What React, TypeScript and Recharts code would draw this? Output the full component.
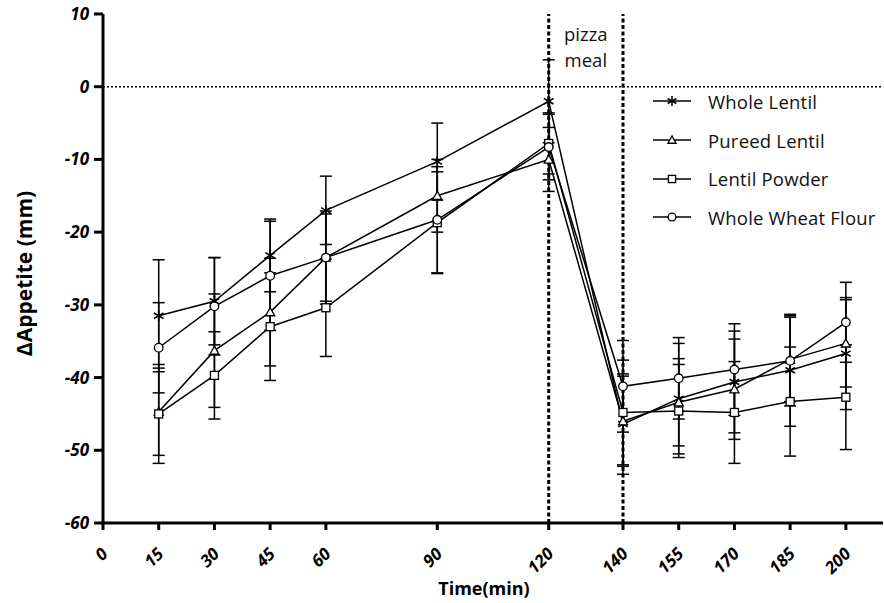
import React from 'react'
import {
  ComposedChart,
  Line,
  XAxis,
  YAxis,
  ErrorBar,
  ReferenceLine,
  ReferenceArea,
} from 'recharts'

const times = [15, 30, 45, 60, 90, 120, 140, 155, 170, 185, 200]
const xTicks = [0, 15, 30, 45, 60, 90, 120, 140, 155, 170, 185, 200]
const yTicks = [-60, -50, -40, -30, -20, -10, 0, 10]

const wholeLentil = [-31.5, -29.5, -23.2, -17.0, -10.3, -2.0, -46.4, -42.9, -40.6, -39.0, -36.7]
const wholeLentilErr = [7.7, 6.0, 5.0, 4.7, 5.3, 5.7, 6.9, 7.6, 7.0, 7.7, 7.7]
const pureedLentil = [-44.7, -36.3, -31.0, -23.5, -15.0, -10.0, -46.0, -43.4, -41.6, -37.5, -35.3]
const pureedLentilErr = [6.0, 7.8, 7.4, 6.0, 5.0, 4.4, 6.2, 6.0, 6.9, 5.8, 6.0]
const lentilPowder = [-45.0, -39.7, -33.0, -30.4, -18.7, -7.8, -44.8, -44.6, -44.8, -43.3, -42.7]
const lentilPowderErr = [6.8, 6.0, 7.4, 6.7, 7.0, 4.2, 7.2, 6.4, 7.0, 7.5, 7.2]
const wheatFlour = [-35.9, -30.2, -26.0, -23.5, -18.3, -8.3, -41.2, -40.1, -38.9, -37.7, -32.4]
const wheatFlourErr = [6.2, 6.7, 7.5, 6.4, 7.3, 4.5, 6.3, 5.6, 6.3, 6.2, 5.5]

const data = times.map((t, i) => ({
  time: t,
  wl: wholeLentil[i],
  wlErr: wholeLentilErr[i],
  pl: pureedLentil[i],
  plErr: pureedLentilErr[i],
  lp: lentilPowder[i],
  lpErr: lentilPowderErr[i],
  wf: wheatFlour[i],
  wfErr: wheatFlourErr[i],
}))

type Kind = 'star' | 'triangle' | 'square' | 'circle'

const series: { key: string; name: string; kind: Kind }[] = [
  { key: 'wl', name: 'Whole Lentil', kind: 'star' },
  { key: 'pl', name: 'Pureed Lentil', kind: 'triangle' },
  { key: 'lp', name: 'Lentil Powder', kind: 'square' },
  { key: 'wf', name: 'Whole Wheat Flour', kind: 'circle' },
]

function Marker({ kind, cx, cy, s = 1 }: { kind: Kind; cx: number; cy: number; s?: number }) {
  const sw = 1.3
  if (kind === 'star') {
    const r = 5.5 * s
    const dx = r * 0.87
    const dy = r * 0.5
    return (
      <g stroke="#000" strokeWidth={1.6}>
        <line x1={cx} y1={cy - r} x2={cx} y2={cy + r} />
        <line x1={cx - dx} y1={cy - dy} x2={cx + dx} y2={cy + dy} />
        <line x1={cx - dx} y1={cy + dy} x2={cx + dx} y2={cy - dy} />
      </g>
    )
  }
  if (kind === 'triangle') {
    const r = 4.5 * s
    return (
      <polygon
        points={`${cx},${cy - r} ${cx - r},${cy + r * 0.8} ${cx + r},${cy + r * 0.8}`}
        fill="#fff"
        stroke="#000"
        strokeWidth={sw}
      />
    )
  }
  if (kind === 'square') {
    const r = 4 * s
    return <rect x={cx - r} y={cy - r} width={2 * r} height={2 * r} fill="#fff" stroke="#000" strokeWidth={sw} />
  }
  return <circle cx={cx} cy={cy} r={4.3 * s} fill="#fff" stroke="#000" strokeWidth={sw} />
}

const XTick = ({ x, y, payload }: any) => (
  <g transform={`translate(${x + 6},${y + 23})`}>
    <text
      textAnchor="end"
      transform="rotate(-45)"
      fontSize={17}
      fontWeight="bold"
      fontStyle="italic"
      fill="#000"
    >
      {payload.value}
    </text>
  </g>
)

const MealLabel = ({ viewBox }: any) => {
  const cx = viewBox.x + viewBox.width / 2
  return (
    <g fontSize={18.5} fill="#111" textAnchor="middle">
      <text x={cx} y={viewBox.y + 27}>pizza</text>
      <text x={cx} y={viewBox.y + 53}>meal</text>
    </g>
  )
}

const LegendBox = () => (
  <div style={{ position: 'absolute', left: 652, top: 82, width: 232 }}>
    {series.map((s) => (
      <div key={s.key} style={{ display: 'flex', alignItems: 'center', height: 38.7 }}>
        <svg width={40} height={20} style={{ marginRight: 16 }}>
          <line x1={1} y1={10} x2={39} y2={10} stroke="#000" strokeWidth={1.5} />
          <Marker kind={s.kind} cx={20} cy={10} s={0.9} />
        </svg>
        <span style={{ fontSize: 18.5, color: '#111', letterSpacing: 0.2 }}>{s.name}</span>
      </div>
    ))}
  </div>
)

export default function App() {
  return (
    <div style={{ position: 'absolute', left: 0, top: 0, width: 884, height: 603, fontFamily: '"Open Sans", sans-serif', background: '#fff' }}>
      <ComposedChart width={884} height={603} data={data} margin={{ top: 14, right: 1, left: 0, bottom: 0 }}>
        <ReferenceLine y={0} stroke="#000" strokeWidth={1.5} strokeDasharray="2 2" />
        <ReferenceLine x={120} stroke="#000" strokeWidth={3} strokeDasharray="4 2.5" />
        <ReferenceLine x={140} stroke="#000" strokeWidth={3} strokeDasharray="4 2.5" />
        <ReferenceArea x1={120} x2={140} y1={10} y2={0} fillOpacity={0} strokeOpacity={0} label={<MealLabel />} />
        <XAxis
          type="number"
          dataKey="time"
          domain={[0, 210]}
          ticks={xTicks}
          interval={0}
          height={80}
          tickSize={7}
          axisLine={{ stroke: '#000', strokeWidth: 3 }}
          tickLine={{ stroke: '#000', strokeWidth: 3 }}
          tick={<XTick />}
          label={({ viewBox }: any) => (
            <text x={484} y={viewBox.y + 72} textAnchor="middle" fontSize={18} fontWeight="bold" fill="#000">
              Time(min)
            </text>
          )}
        />
        <YAxis
          type="number"
          domain={[-60, 10]}
          ticks={yTicks}
          interval={0}
          width={103}
          tickSize={9}
          tickMargin={5}
          axisLine={{ stroke: '#000', strokeWidth: 3 }}
          tickLine={{ stroke: '#000', strokeWidth: 3 }}
          tick={{ fontSize: 17, fontWeight: 'bold', fontStyle: 'italic', fill: '#000' }}
          label={({ viewBox }: any) => (
            <text
              x={0}
              y={0}
              transform={`translate(32,${viewBox.y + viewBox.height / 2 + 5}) rotate(-90)`}
              textAnchor="middle"
              fontSize={21}
              fontWeight="bold"
              fill="#000"
            >
              ΔAppetite (mm)
            </text>
          )}
        />
        {series.map((s) => (
          <Line
            key={s.key}
            dataKey={s.key}
            name={s.name}
            type="linear"
            stroke="#000"
            strokeWidth={1.5}
            isAnimationActive={false}
            dot={(p: any) => <Marker key={`${s.key}-${p.index}`} kind={s.kind} cx={p.cx} cy={p.cy} />}
            activeDot={false}
          >
            <ErrorBar dataKey={`${s.key}Err`} width={6} stroke="#000" strokeWidth={1.5} direction="y" />
          </Line>
        ))}
      </ComposedChart>
      <LegendBox />
    </div>
  )
}
